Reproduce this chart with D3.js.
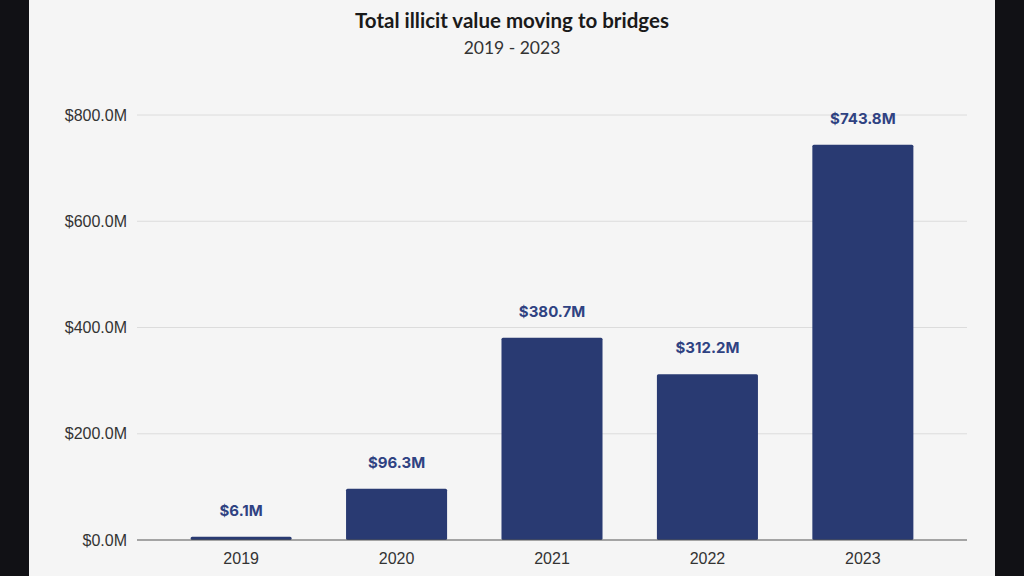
<!DOCTYPE html>
<html><head><meta charset="utf-8">
<script src="https://cdn.jsdelivr.net/npm/d3@7"></script>
<style>
html,body{margin:0;padding:0;background:#111115;}
svg{display:block;}
</style></head>
<body>
<svg id="chart" width="1024" height="576"></svg>
<script>
const categories = ["2019","2020","2021","2022","2023"];
const values = [6.1, 96.3, 380.7, 312.2, 743.8];
const yTicks = [0, 200, 400, 600, 800];
const title = "Total illicit value moving to bridges";
const subtitle = "2019 - 2023";

(function(){
const svg = d3.select("#chart");
svg.append("rect").attr("x",0).attr("y",0).attr("width",1024).attr("height",576).attr("fill","#111115");
svg.append("rect").attr("x",29).attr("y",0).attr("width",966).attr("height",576).attr("fill","#f5f5f5");

const mLeft = 137, mRight = 967, mTop = 115, mBottom = 540;
const x = d3.scaleBand().domain(categories).range([mLeft,mRight]).paddingInner(0.35).paddingOuter(0.345);
const y = d3.scaleLinear().domain([0,800]).range([mBottom, mTop]);

svg.append("text").attr("x",512).attr("y",28).attr("text-anchor","middle")
  .attr("font-family","Lato, 'Noto Sans', sans-serif").attr("font-weight","bold").attr("font-size",20.5).attr("fill","#1a1a1a").text(title);
svg.append("text").attr("x",512).attr("y",54).attr("text-anchor","middle")
  .attr("font-family","Lato, 'Noto Sans', sans-serif").attr("font-size",17.5).attr("fill","#333").text(subtitle);

const yAxis = d3.axisLeft(y).tickValues(yTicks).tickSize(0).tickPadding(10).tickFormat(d => "$" + d.toFixed(1) + "M");
const gy = svg.append("g").attr("transform",`translate(${mLeft},0)`).call(yAxis);
gy.select(".domain").remove();
gy.selectAll("text").attr("font-family","'Liberation Sans', Arial, sans-serif").attr("font-size",16).attr("fill","#333");
svg.append("g").selectAll("line").data(yTicks.filter(d=>d>0)).join("line")
  .attr("x1",mLeft).attr("x2",mRight).attr("y1",d=>y(d)).attr("y2",d=>y(d)).attr("stroke","#dcdcdc").attr("stroke-width",1);

svg.append("g").selectAll("rect").data(values).join("rect")
  .attr("x",(d,i)=>x(categories[i])).attr("width",x.bandwidth())
  .attr("y",d=>y(d)).attr("height",d=>mBottom-y(d)).attr("fill","#293a72").attr("rx",1.5);

svg.append("g").selectAll("text").data(values).join("text")
  .attr("x",(d,i)=>x(categories[i])+x.bandwidth()/2).attr("y",d=>y(d)-21)
  .attr("text-anchor","middle").attr("font-family","Inter, Roboto, sans-serif").attr("font-weight","bold")
  .attr("font-size",15).attr("fill","#2f4282").text(d=>"$"+d.toFixed(1)+"M");

const xAxis = d3.axisBottom(x).tickSize(0).tickPadding(13);
const gx = svg.append("g").attr("transform",`translate(0,${mBottom})`).call(xAxis);
gx.select(".domain").attr("stroke","#555").attr("stroke-width",1.2).attr("d",`M${mLeft},0H${mRight}`);
gx.selectAll("text").attr("font-family","'Liberation Sans', Arial, sans-serif").attr("font-size",16).attr("fill","#333");
})();
</script>
</body></html>
